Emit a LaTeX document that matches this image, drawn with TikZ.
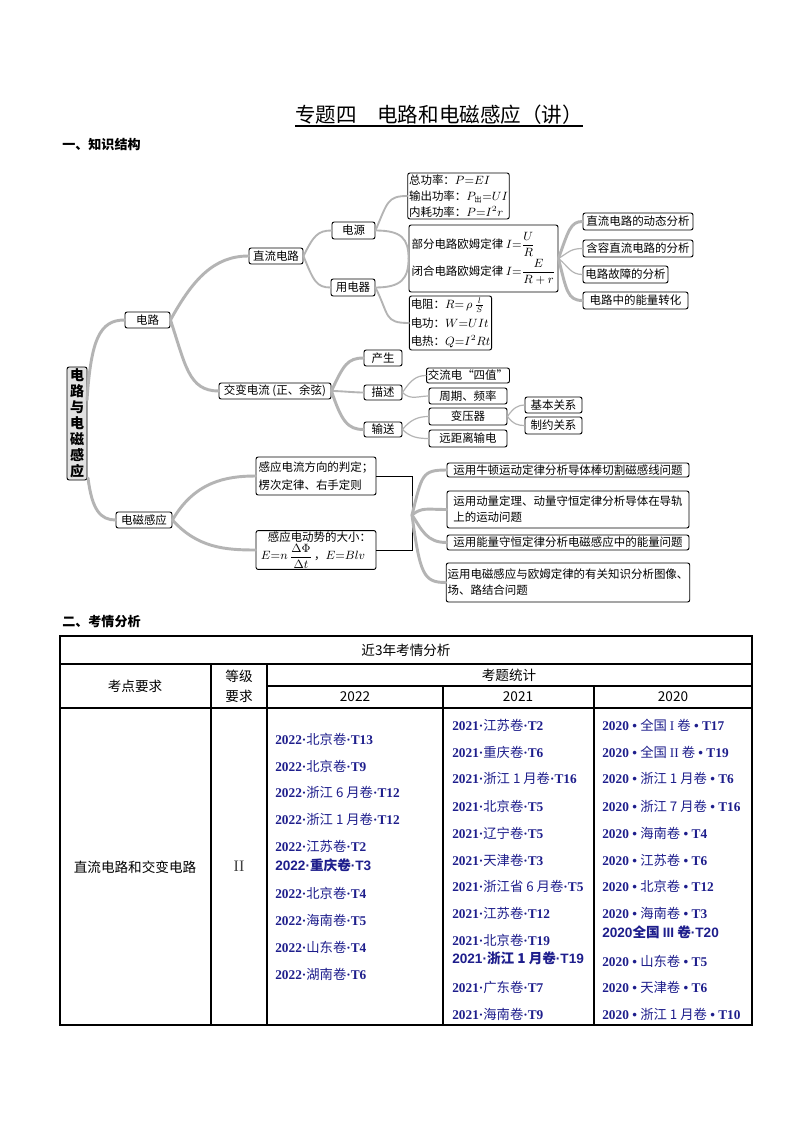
\documentclass[tikz,border=0pt]{standalone}
\usepackage{amsmath}
\usepackage{fontspec}
\setmainfont{Noto Sans CJK SC}
\newfontfamily\serifl{Liberation Serif}
\newfontfamily\lsans{Liberation Sans}
\definecolor{branch}{HTML}{B4B4B4}
\definecolor{navy}{HTML}{1E1E8C}
\definecolor{rootfill}{HTML}{E2E2E2}
\newcommand\kbox[7][]{\node[box,minimum width={(#5-#3)*0.75pt},minimum height={(#6-#4)*0.75pt},#1] (#2) at ({(#3+#5)/2},{(#4+#6)/2}) {#7};}
\newcommand\en[3]{{\serifl\bfseries #1·}#2{\serifl\bfseries ·#3}}
\newcommand\eb[3]{{\serifl\bfseries #1 • }#2{\serifl\bfseries\ • #3}}
\newcommand\es[3]{{\lsans\bfseries #1}#2{\lsans\bfseries #3}}
\begin{document}
\begin{tikzpicture}[x=0.75pt,y=-0.75pt,
  box/.style={draw=black,line width=0.7pt,rounded corners=1.6pt,fill=white,inner sep=1pt,font=\fontsize{8.6}{11}\selectfont},
  brA/.style={draw=branch,line width=2.2pt,line cap=round},
  brB/.style={draw=branch,line width=1.4pt,line cap=round},
  brC/.style={draw=branch,line width=0.9pt,line cap=round},
  tb/.style={font=\fontsize{10.2}{15}\selectfont,inner sep=0pt},
  ent/.style={anchor=west,text=navy,font=\fontsize{10}{11}\selectfont,inner sep=0pt},
  entb/.style={anchor=west,text=navy,font=\fontsize{10.2}{11}\selectfont\bfseries,inner sep=0pt},
  grid/.style={draw=black,line width=0.8pt}
]
\fill[white] (0,0) rectangle (794,1123);
\useasboundingbox (0,0) rectangle (794,1123);

% title and headings
\node[anchor=west,inner sep=0pt,font=\fontsize{15.4}{18}\selectfont] (title) at (295,115) {专题四\hspace{1em}电路和电磁感应（讲）};
\draw[line width=0.8pt] (295,126) -- (583,126);
\node[anchor=west,inner sep=0pt,font=\fontsize{9.8}{12}\selectfont\bfseries] (h1) at (62,145) {一、知识结构};
\node[anchor=west,inner sep=0pt,font=\fontsize{9.8}{12}\selectfont\bfseries] (h2) at (62,622) {二、考情分析};

% ---------- mind map nodes ----------
\kbox[fill=rootfill,align=center,font=\fontsize{10.5}{12}\selectfont\bfseries]{root}{67}{367}{87}{480}{电\\路\\与\\电\\磁\\感\\应}
\kbox{dlu}{125}{312}{170}{328}{电路}
\kbox{dl}{249}{248}{303}{264}{直流电路}
\kbox{dy}{332}{222}{375}{239}{电源}
\kbox{yd}{331}{279}{375}{296}{用电器}
\kbox[align=left,font=\fontsize{8.6}{12}\selectfont]{pw}{410}{173}{507}{219}{总功率：$P{=}EI$\\输出功率：$P_{\mbox{\fontsize{5.5}{6}\selectfont 出}}{=}UI$\\内耗功率：$P{=}I^2r$}
\kbox[align=left,font=\fontsize{8.6}{12}\selectfont]{ohm}{409}{225}{558}{292}{部分电路欧姆定律 $I{=}\dfrac{U}{R}$\\[1pt]闭合电路欧姆定律 $I{=}\dfrac{E}{R+r}$}
\kbox[align=left,font=\fontsize{8.6}{14}\selectfont]{rs}{410}{296}{491}{350}{电阻：$R{=}\,\rho\,\frac{l}{S}$\\电功：$W{=}UIt$\\电热：$Q{=}I^2Rt$}
\kbox{r1}{583}{213}{693}{230}{直流电路的动态分析}
\kbox{r2}{583}{240}{693}{257}{含容直流电路的分析}
\kbox{r3}{583}{266}{668}{283}{电路故障的分析}
\kbox{r4}{583}{292}{688}{309}{电路中的能量转化}

\kbox{ac}{219}{383}{331}{399}{交变电流 (正、余弦)}
\kbox{cs}{364}{350}{402}{366}{产生}
\kbox{ms}{364}{385}{402}{400}{描述}
\kbox{ss}{364}{422}{402}{437}{输送}
\kbox{sz}{429}{368}{507}{383}{交流电“四值”}
\kbox{zq}{429}{388}{507}{404}{周期、频率}
\kbox{by}{429}{408}{507}{425}{变压器}
\kbox{yj}{429}{430}{507}{447}{远距离输电}
\kbox{jb}{525}{397}{582}{413}{基本关系}
\kbox{zy}{525}{417}{582}{434}{制约关系}

\kbox{em}{116}{512}{172}{528}{电磁感应}
\kbox[align=left,font=\fontsize{8.6}{13.5}\selectfont]{e1}{256}{457}{376}{495}{感应电流方向的判定；\\楞次定律、右手定则}
\kbox[align=left,font=\fontsize{8.6}{11}\selectfont]{e2}{256}{531}{376}{569}{\hspace*{0.6em}感应电动势的大小：\\$E{=}n\,\dfrac{\Delta\Phi}{\Delta t}$\,，$E{=}Blv$}
\kbox{f1}{447}{463}{689}{477}{运用牛顿运动定律分析导体棒切割磁感线问题}
\kbox[align=left,font=\fontsize{8.6}{12}\selectfont]{f2}{447}{491}{689}{528}{运用动量定理、动量守恒定律分析导体在导轨\\上的运动问题}
\kbox{f3}{447}{535}{689}{550}{运用能量守恒定律分析电磁感应中的能量问题}
\kbox[align=left,font=\fontsize{8.6}{12}\selectfont]{f4}{447}{563}{689}{602}{运用电磁感应与欧姆定律的有关知识分析图像、\\场、路结合问题}

% ---------- branches ----------
\coordinate (rt) at (87,400);
\coordinate (rb) at (88,478);
\coordinate (bk) at (412,515);
\draw[brA] (rt) .. controls +(4,-60) and +(-25,0) .. (dlu.west);
\draw[brA] (rb) .. controls +(4,32) and +(-15,0) .. (em.west);
\draw[brA] (dlu.east) .. controls +(22,-40) and +(-35,0) .. (dl.west);
\draw[brA] (dlu.east) .. controls +(15,45) and +(-30,0) .. (ac.west);
\draw[brB] (dl.east) .. controls +(10,-20) and +(-14,0) .. (dy.west);
\draw[brB] (dl.east) .. controls +(10,25) and +(-14,0) .. (yd.west);
\draw[brB] (dy.east) .. controls +(12,-28) and +(-20,0) .. (pw.west);
\draw[brB] (dy.east) .. controls +(26,0) and +(0,-20) .. (ohm.west);
\draw[brB] (yd.east) .. controls +(26,0) and +(0,20) .. (ohm.west);
\draw[brB] (yd.east) .. controls +(14,28) and +(-25,0) .. (rs.west);
\draw[brA] (ohm.east) .. controls +(10,-28) and +(-12,0) .. (r1.west);
\draw[brC] (ohm.east) .. controls +(10,-6) and +(-12,0) .. (r2.west);
\draw[brC] (ohm.east) .. controls +(10,8) and +(-12,0) .. (r3.west);
\draw[brA] (ohm.east) .. controls +(8,32) and +(-15,0) .. (r4.west);

\draw[brA] (ac.east) .. controls +(12,-26) and +(-16,0) .. (cs.west);
\draw[brB] (ac.east) .. controls +(10,0) and +(-10,0) .. (ms.west);
\draw[brA] (ac.east) .. controls +(10,30) and +(-16,0) .. (ss.west);
\draw[brC] (ms.east) .. controls +(8,-12) and +(-10,0) .. (sz.west);
\draw[brC] (ms.east) .. controls +(8,8) and +(-10,0) .. (zq.west);
\draw[brC] (ss.east) .. controls +(8,-10) and +(-10,0) .. (by.west);
\draw[brC] (ss.east) .. controls +(8,8) and +(-10,0) .. (yj.west);
\draw[brC] (by.east) .. controls +(6,-9) and +(-6,0) .. (jb.west);
\draw[brC] (by.east) .. controls +(6,8) and +(-6,0) .. (zy.west);

\draw[brA] (em.east) .. controls +(22,-38) and +(-30,0) .. (e1.west);
\draw[brA] (em.east) .. controls +(25,28) and +(-30,0) .. (e2.west);
\draw[black,line width=0.7pt] (e1.east) -| (bk) |- (e2.east);
\draw[brA] (bk) .. controls +(10,-40) and +(-25,0) .. (f1.west);
\draw[brA] (bk) .. controls +(10,-8) and +(-20,0) .. (f2.west);
\draw[brA] (bk) .. controls +(10,15) and +(-20,0) .. (f3.west);
\draw[brA] (bk) .. controls +(8,60) and +(-22,0) .. (f4.west);

% ---------- table ----------
\draw[grid] (60,636) rectangle (752,1025);
\draw[grid] (60,664) -- (752,664);
\draw[grid] (267,686) -- (752,686);
\draw[grid] (60,708) -- (752,708);
\draw[grid] (211,664) -- (211,1025);
\draw[grid] (267,664) -- (267,1025);
\draw[grid] (443,686) -- (443,1025);
\draw[grid] (594,686) -- (594,1025);

\node[tb] (t0) at (406,650) {近3年考情分析};
\node[tb] (t1) at (135,686) {考点要求};
\node[tb,align=center] (t2) at (239,686) {等级\\要求};
\node[tb] (t3) at (509,675) {考题统计};
\node[tb] (t4) at (355,697) {2022};
\node[tb] (t5) at (518,697) {2021};
\node[tb] (t6) at (673,697) {2020};
\node[tb] (t7) at (135,867) {直流电路和交变电路};
\node[inner sep=0pt,text=black!75,font=\fontsize{12}{14}\selectfont\serifl] (t8) at (239,866) {II};

% 2022
\node[ent] (a1) at (275,739) {\en{2022}{北京卷}{T13}};
\node[ent] (a2) at (275,766) {\en{2022}{北京卷}{T9}};
\node[ent] (a3) at (275,792) {\en{2022}{浙江 6 月卷}{T12}};
\node[ent] (a4) at (275,819) {\en{2022}{浙江 1 月卷}{T12}};
\node[ent] (a5) at (275,846) {\en{2022}{江苏卷}{T2}};
\node[entb] (a6) at (275,865) {\es{2022·}{重庆卷}{·T3}};
\node[ent] (a7) at (275,893) {\en{2022}{北京卷}{T4}};
\node[ent] (a8) at (275,920) {\en{2022}{海南卷}{T5}};
\node[ent] (a9) at (275,947) {\en{2022}{山东卷}{T4}};
\node[ent] (a10) at (275,974) {\en{2022}{湖南卷}{T6}};
% 2021
\node[ent] (b1) at (452,725) {\en{2021}{江苏卷}{T2}};
\node[ent] (b2) at (452,752) {\en{2021}{重庆卷}{T6}};
\node[ent] (b3) at (452,778) {\en{2021}{浙江 1 月卷}{T16}};
\node[ent] (b4) at (452,806) {\en{2021}{北京卷}{T5}};
\node[ent] (b5) at (452,833) {\en{2021}{辽宁卷}{T5}};
\node[ent] (b6) at (452,860) {\en{2021}{天津卷}{T3}};
\node[ent] (b7) at (452,886) {\en{2021}{浙江省 6 月卷}{T5}};
\node[ent] (b8) at (452,913) {\en{2021}{江苏卷}{T12}};
\node[ent] (b9) at (452,940) {\en{2021}{北京卷}{T19}};
\node[entb] (b10) at (452,958) {\es{2021·}{浙江 1 月卷}{·T19}};
\node[ent] (b11) at (452,987) {\en{2021}{广东卷}{T7}};
\node[ent] (b12) at (452,1014) {\en{2021}{海南卷}{T9}};
% 2020
\node[ent] (c1) at (602,725) {\eb{2020}{全国 {\serifl I} 卷}{T17}};
\node[ent] (c2) at (602,752) {\eb{2020}{全国 {\serifl II} 卷}{T19}};
\node[ent] (c3) at (602,778) {\eb{2020}{浙江 1 月卷}{T6}};
\node[ent] (c4) at (602,806) {\eb{2020}{浙江 7 月卷}{T16}};
\node[ent] (c5) at (602,833) {\eb{2020}{海南卷}{T4}};
\node[ent] (c6) at (602,860) {\eb{2020}{江苏卷}{T6}};
\node[ent] (c7) at (602,886) {\eb{2020}{北京卷}{T12}};
\node[ent] (c8) at (602,913) {\eb{2020}{海南卷}{T3}};
\node[entb] (c9) at (602,932) {\es{2020}{全国 {\lsans\bfseries III} 卷}{·T20}};
\node[ent] (c10) at (602,961) {\eb{2020}{山东卷}{T5}};
\node[ent] (c11) at (602,987) {\eb{2020}{天津卷}{T6}};
\node[ent] (c12) at (602,1014) {\eb{2020}{浙江 1 月卷}{T10}};
\end{tikzpicture}
\end{document}
